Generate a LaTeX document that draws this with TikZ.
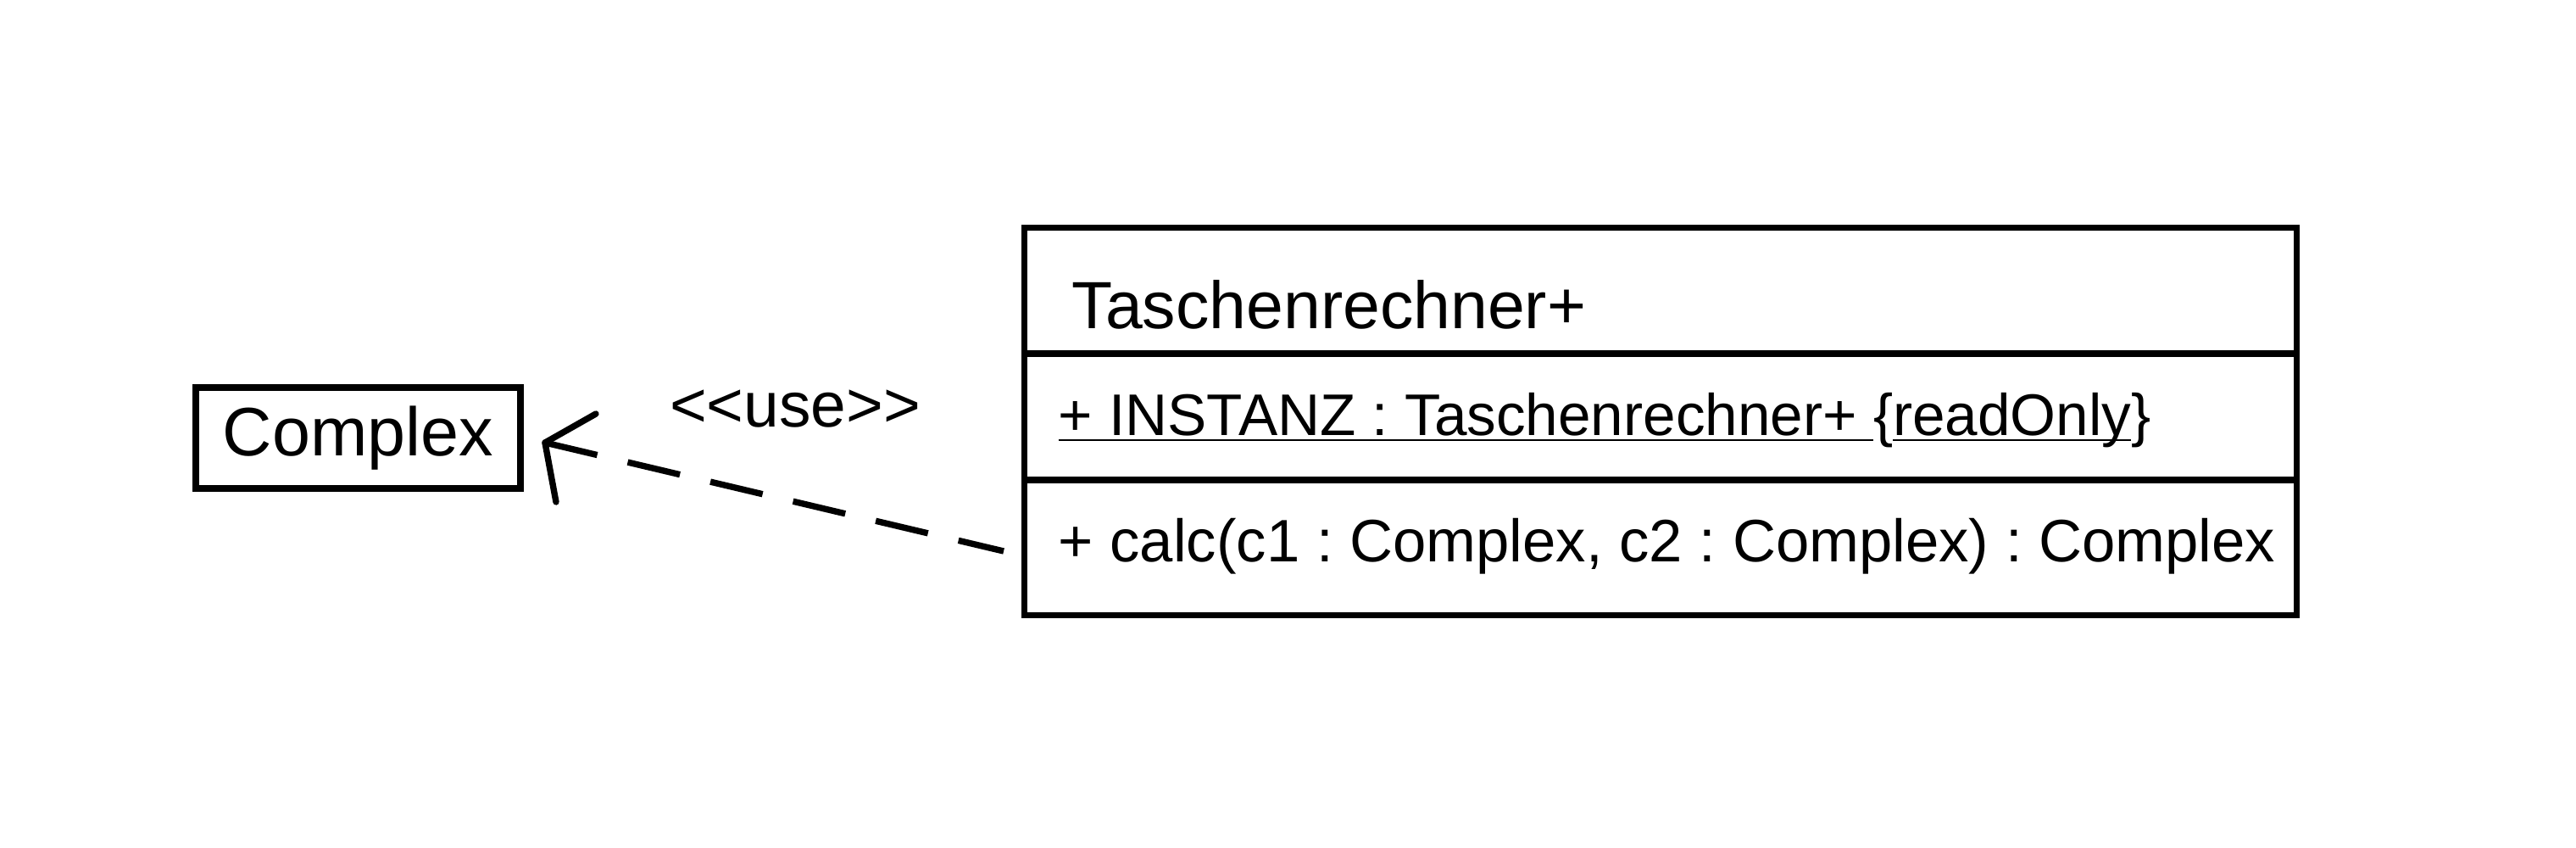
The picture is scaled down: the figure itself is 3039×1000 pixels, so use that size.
\documentclass[tikz,border=0pt]{standalone}
\usepackage{fontspec}
\setmainfont{Liberation Sans}
\usetikzlibrary{calc}
\newcommand{\fs}[1]{\fontsize{#1}{1.2\dimexpr#1\relax}\selectfont}
\frenchspacing
\begin{document}
\begin{tikzpicture}[x=0.01cm,y=0.01cm,
  box/.style={draw, line width=2pt, inner sep=0pt, minimum width=15cm},
  member/.style={anchor=base west, inner sep=0pt},
  conn/.style={line width=2.1pt, dash pattern=on 18pt off 10.5pt},
  armline/.style={line width=2.1pt, line cap=round}]
\useasboundingbox (0,0) rectangle (3039,1000);
% Complex class
\node[draw, line width=2.2pt, inner sep=0pt, minimum width=3.83cm, minimum height=1.19cm, font=\fs{23pt}] (cplx) at (422.5,483.5) {Complex};
% Taschenrechner+ class compartments
\node[box, minimum height=1.48cm] (name) at (1959,657) {};
\node[box, minimum height=1.49cm] (attr) at (1959,508.5) {};
\node[box, minimum height=1.59cm] (ops) at (1959,354.5) {};
\node[anchor=base west, inner sep=0pt, font=\fs{22.4pt}] (nametext) at (1264,612) {Taschenrechner+};
\node[member, font=\fs{19.7pt}] (attrtext) at (1248,486) {\underline{\smash{+ INSTANZ : Taschenrechner+ }}\{\underline{\smash{readOnly}}\}};
\node[member, font=\fs{20.1pt}] (optext) at (1248,337) {+ calc(c1 : Complex, c2 : Complex) : Complex};
% dependency
\coordinate (src) at ($(ops.west)+(-21,-4.5)$);
\coordinate (tip) at ($(cplx.east)+(25,-5.5)$);
\draw[conn] (tip) -- (src);
\draw[armline] (tip) -- ++(60,34);
\draw[armline] (tip) -- ++(13,-70);
\node[anchor=base, inner sep=0pt, font=\fs{21.3pt}] (uselabel) at (938,496) {<{}<use>{}>};
\end{tikzpicture}
\end{document}
